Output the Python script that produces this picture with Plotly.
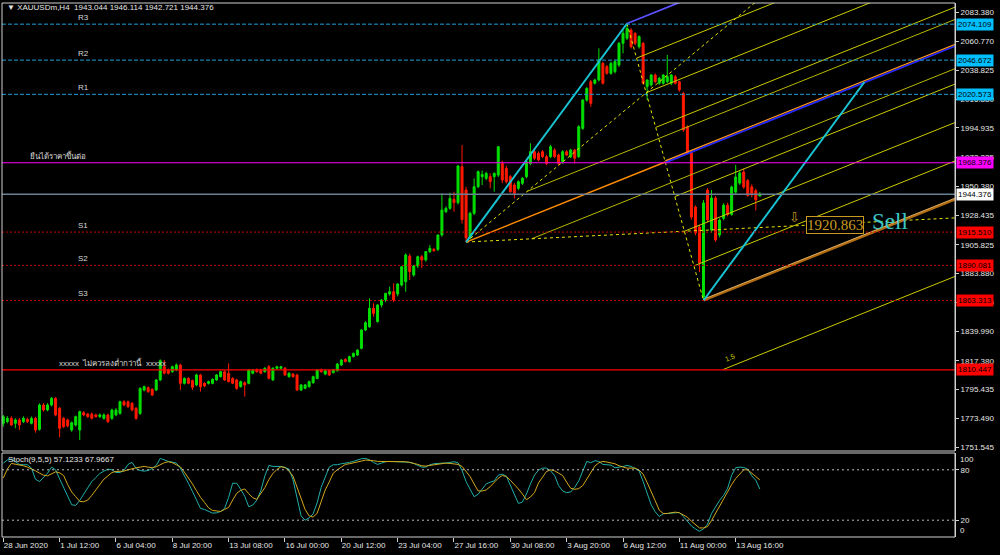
import plotly.graph_objects as go

# ------------------------------------------------------------------ data
bar_open = [
    1769.6, 1770.9, 1773.4, 1769.6, 1772.2, 1770.9, 1772.7, 1769.6, 1773.4, 1765.0,
    1783.6, 1779.8, 1783.6, 1788.7, 1781.1, 1773.4, 1772.2, 1764.5, 1768.3, 1764.5,
    1777.7, 1776.7, 1776.7, 1776.0, 1774.7, 1773.4, 1776.0, 1773.4, 1776.0, 1777.2,
    1786.1, 1786.1, 1784.9, 1781.1, 1777.2, 1795.0, 1796.8, 1795.5, 1795.0, 1802.7,
    1812.8, 1810.3, 1809.0, 1810.3, 1814.1, 1800.1, 1803.9, 1802.2, 1798.9, 1806.5,
    1800.1, 1800.1, 1800.1, 1802.7, 1805.2, 1809.0, 1807.8, 1803.9, 1802.7, 1797.6,
    1800.6, 1800.1, 1807.8, 1810.3, 1810.3, 1809.0, 1812.8, 1802.7, 1811.6, 1811.6,
    1811.6, 1805.2, 1807.2, 1806.5, 1795.0, 1796.3, 1797.6, 1800.6, 1803.9, 1810.3,
    1807.2, 1809.8, 1808.3, 1809.8, 1814.1, 1818.4, 1816.7, 1820.5, 1821.7,
    1826.8, 1840.8, 1843.3, 1857.3, 1847.2, 1859.9, 1863.7, 1868.3, 1870.0, 1868.3,
    1875.1, 1877.7, 1897.2, 1882.8, 1889.6, 1896.7, 1894.2, 1900.6, 1902.3, 1902.3,
    1913.3, 1931.1, 1933.6, 1940.5, 1937.9, 1965.4, 1947.6,
    1911.0, 1929.8, 1950.1, 1957.8, 1956.5, 1957.8, 1957.8, 1959.0, 1967.9, 1964.1,
    1957.8, 1951.4, 1948.9, 1952.7, 1957.8, 1967.9, 1976.8, 1975.6, 1976.8, 1973.0,
    1973.0, 1978.1, 1974.3, 1969.2, 1976.8, 1973.0, 1978.1, 1973.0, 1994.6, 2016.2,
    2030.2, 2029.0, 2031.5, 2044.2, 2041.7, 2036.6, 2037.9, 2042.9, 2059.5, 2063.3,
    2069.6, 2067.1, 2056.9, 2059.5, 2026.4, 2027.7, 2035.3, 2029.0, 2029.0, 2030.2,
    2029.0, 2034.0, 2030.2, 2021.3, 1995.9, 1976.6, 1934.6, 1919.4, 1866.0, 1947.6,
    1917.0, 1941.5, 1913.3, 1926.0, 1936.0, 1929.0, 1946.0, 1952.9, 1961.3, 1954.8,
    1950.0, 1947.1, 1943.044,
]
bar_high = [
    1776.0, 1775.2, 1775.0, 1773.5, 1773.6, 1775.0, 1774.0, 1774.8, 1774.5, 1784.8,
    1785.0, 1785.0, 1789.6, 1789.6, 1782.0, 1774.5, 1773.2, 1771.0, 1775.5, 1779.3,
    1779.0, 1777.6, 1777.8, 1777.0, 1777.2, 1777.2, 1777.0, 1780.8, 1781.2, 1786.9,
    1787.2, 1787.0, 1785.8, 1782.0, 1797.0, 1798.4, 1797.8, 1796.4, 1803.4, 1818.4,
    1817.9, 1811.4, 1813.6, 1815.4, 1815.0, 1804.6, 1804.8, 1803.0, 1807.4, 1807.4,
    1801.0, 1802.2, 1803.9, 1807.2, 1809.8, 1810.0, 1815.4, 1804.8, 1803.6, 1802.2,
    1801.6, 1811.0, 1811.0, 1811.5, 1811.2, 1812.4, 1814.1, 1812.4, 1813.6, 1813.4,
    1812.6, 1808.6, 1808.0, 1807.4, 1799.6, 1799.6, 1802.2, 1806.0, 1810.8, 1811.4,
    1810.6, 1810.8, 1811.0, 1815.6, 1818.6, 1819.2, 1821.2, 1823.6, 1826.0,
    1841.5, 1847.5, 1865.0, 1861.2, 1860.5, 1864.5, 1869.0, 1873.9, 1876.4, 1876.4,
    1889.6, 1899.3, 1899.0, 1890.5, 1897.5, 1898.0, 1901.0, 1905.6, 1903.5, 1913.5,
    1945.0, 1935.0, 1945.5, 1946.3, 1966.7, 1981.9, 1950.0,
    1931.0, 1956.5, 1962.5, 1962.5, 1961.5, 1960.3, 1961.0, 1981.1, 1970.0, 1966.0,
    1959.0, 1953.0, 1955.0, 1957.5, 1970.0, 1983.2, 1978.0, 1977.0, 1978.0, 1974.5,
    1982.0, 1979.5, 1975.5, 1978.0, 1978.0, 1979.0, 1979.0, 1997.0, 2017.0, 2026.0,
    2031.5, 2032.5, 2055.7, 2045.5, 2043.0, 2045.5, 2047.0, 2060.5, 2069.6, 2074.6,
    2071.0, 2068.0, 2065.5, 2060.5, 2032.0, 2036.0, 2036.5, 2034.0, 2036.0, 2050.6,
    2036.0, 2035.3, 2031.0, 2022.5, 1997.0, 1978.0, 1936.0, 1921.0, 1940.0, 1949.0,
    1947.6, 1943.0, 1926.0, 1937.5, 1938.0, 1951.0, 1966.7, 1962.0, 1964.0, 1956.0,
    1952.0, 1948.5, 1946.114,
]
bar_low = [
    1767.1, 1769.6, 1767.5, 1765.8, 1764.5, 1769.8, 1769.8, 1768.8, 1762.5, 1764.0,
    1778.6, 1778.8, 1782.5, 1775.0, 1758.9, 1766.0, 1766.5, 1763.2, 1767.2, 1756.9,
    1775.0, 1773.8, 1772.6, 1773.8, 1773.6, 1772.4, 1769.8, 1772.2, 1775.0, 1776.2,
    1782.6, 1781.4, 1778.8, 1772.2, 1776.0, 1794.0, 1792.8, 1790.4, 1794.2, 1801.8,
    1807.0, 1806.8, 1808.2, 1809.4, 1795.0, 1799.2, 1799.4, 1795.0, 1798.0, 1793.8,
    1797.2, 1799.2, 1799.4, 1802.0, 1804.6, 1802.0, 1800.8, 1799.5, 1795.0, 1796.9,
    1790.0, 1799.4, 1807.0, 1808.2, 1807.0, 1808.2, 1803.2, 1802.0, 1810.8, 1810.6,
    1805.8, 1804.4, 1804.4, 1794.2, 1794.2, 1795.6, 1796.8, 1799.8, 1803.2, 1808.2,
    1806.4, 1805.8, 1807.6, 1809.0, 1813.4, 1816.0, 1816.0, 1819.8, 1821.0,
    1826.0, 1840.0, 1842.5, 1851.0, 1846.4, 1858.0, 1862.0, 1867.0, 1862.0, 1866.5,
    1874.0, 1870.0, 1879.0, 1881.5, 1888.0, 1887.8, 1893.0, 1899.5, 1900.5, 1901.0,
    1912.0, 1930.0, 1932.5, 1931.0, 1936.5, 1922.0, 1907.9,
    1910.0, 1928.5, 1949.0, 1951.4, 1955.0, 1948.9, 1946.3, 1957.5, 1952.7, 1952.5,
    1945.5, 1941.2, 1947.5, 1951.5, 1956.5, 1966.5, 1970.5, 1969.5, 1972.0, 1966.5,
    1972.0, 1972.0, 1966.5, 1967.5, 1973.5, 1972.0, 1967.9, 1972.0, 1993.5, 2015.0,
    2011.0, 2028.0, 2030.5, 2028.0, 2035.5, 2035.5, 2036.5, 2041.5, 2051.9, 2062.0,
    2055.5, 2058.0, 2055.5, 2028.0, 2016.2, 2026.5, 2029.0, 2028.0, 2028.0, 2029.0,
    2027.5, 2028.0, 2022.5, 1992.0, 1975.0, 1925.0, 1913.0, 1885.0, 1863.3, 1923.0,
    1915.0, 1908.0, 1911.5, 1924.5, 1927.5, 1928.0, 1944.5, 1951.5, 1948.5, 1942.5,
    1942.0, 1932.0, 1942.721,
]
bar_close = [
    1774.7, 1773.4, 1768.3, 1772.2, 1768.3, 1773.4, 1770.9, 1773.4, 1764.5, 1783.6,
    1779.8, 1783.6, 1788.7, 1776.0, 1765.8, 1767.1, 1767.6, 1770.1, 1774.7, 1778.5,
    1776.0, 1774.7, 1773.4, 1774.7, 1776.0, 1776.0, 1770.9, 1779.8, 1779.8, 1786.1,
    1783.6, 1782.3, 1779.8, 1773.4, 1796.3, 1797.6, 1793.8, 1791.2, 1802.7, 1817.4,
    1807.8, 1807.8, 1812.8, 1814.1, 1800.1, 1803.9, 1800.1, 1797.1, 1806.5, 1797.6,
    1798.1, 1801.4, 1803.2, 1806.5, 1809.0, 1802.7, 1801.4, 1800.1, 1796.3, 1801.4,
    1798.9, 1810.3, 1810.3, 1809.0, 1807.8, 1811.6, 1803.9, 1811.6, 1812.8, 1812.8,
    1806.5, 1807.8, 1805.2, 1795.0, 1798.9, 1798.9, 1801.4, 1805.2, 1810.3, 1809.0,
    1809.8, 1806.5, 1810.3, 1814.9, 1817.9, 1816.7, 1820.5, 1823.0, 1825.5,
    1840.8, 1846.4, 1857.3, 1853.5, 1859.9, 1863.7, 1868.8, 1870.0, 1863.7, 1875.9,
    1889.1, 1898.0, 1885.3, 1889.6, 1896.7, 1894.2, 1900.6, 1903.1, 1901.3, 1913.3,
    1932.3, 1933.6, 1941.2, 1937.9, 1965.9, 1925.0, 1911.0,
    1929.8, 1950.1, 1961.6, 1959.5, 1960.3, 1954.0, 1960.3, 1980.6, 1955.2, 1953.9,
    1946.3, 1945.0, 1953.9, 1956.5, 1969.2, 1976.8, 1971.8, 1970.5, 1973.0, 1967.9,
    1980.6, 1973.0, 1967.9, 1976.8, 1974.3, 1978.1, 1971.8, 1995.9, 2016.2, 2025.1,
    2013.7, 2031.5, 2046.8, 2029.0, 2036.6, 2044.2, 2045.5, 2059.5, 2067.1, 2070.9,
    2056.9, 2059.5, 2064.6, 2029.0, 2031.5, 2035.3, 2030.2, 2032.8, 2035.3, 2034.0,
    2035.3, 2029.0, 2023.9, 1993.4, 1976.6, 1927.0, 1914.8, 1891.9, 1937.7, 1924.7,
    1941.5, 1909.5, 1924.7, 1936.0, 1929.0, 1949.9, 1957.5, 1960.6, 1949.9, 1943.3,
    1944.0, 1940.0, 1944.376,
]

stoch_main = [
    88, 91.6, 92.8, 89.6, 86.4, 86, 86, 82, 68.8, 66,
    70.4, 76, 83.2, 80, 69.2, 58.8, 48.4, 38.4, 37.6, 43.6,
    51.2, 59.2, 66, 70.8, 75.6, 78.4, 80.8, 80, 76.8, 76.8,
    79.2, 86.4, 88.8, 81.6, 79.2, 78.4, 79.2, 81.6, 85.2, 93.6,
    91.6, 90, 89.2, 88, 82, 73.6, 64, 54.4, 44.4, 34,
    32.8, 30.8, 28.4, 28.8, 30.4, 34, 47.2, 64, 64, 56.8,
    48.4, 36, 38, 44, 55.2, 72.8, 85.2, 84, 84, 84,
    82.8, 80.8, 68, 45.2, 25.2, 20, 22.8, 27.6, 40.8, 59.2,
    71.2, 83.2, 86, 86, 87.2, 87.6, 88.8, 90, 91.6, 93.2,
    93.6, 92, 88.8, 86.4, 88, 89.6, 90, 90, 90, 89.6,
    89.2, 88.8, 87.6, 85.2, 83.2, 83.2, 86, 87.2, 88, 88,
    88, 88.8, 89.6, 88.4, 79.2, 66, 56, 48, 50.8, 56.8,
    63.2, 65.2, 66.8, 73.6, 74.8, 72.4, 61.2, 49.6, 40, 41.6,
    51.2, 63.2, 73.6, 79.6, 82, 82, 78.8, 73.2, 61.2, 54.8,
    52.8, 53.6, 59.2, 66.8, 78.4, 90, 88.4, 90.8, 90, 86.4,
    86, 85.6, 82.4, 82.8, 84, 85.2, 84, 81.6, 78.8, 66,
    50.8, 38.4, 30, 24.4, 27.6, 28, 28, 28.8, 29.2, 24.4,
    18.4, 13.2, 9.6, 6.8, 9.6, 15.2, 28, 36.4, 43.6, 49.6,
    58, 73.6, 82.4, 83.2, 82.8, 80.8, 72.8, 67.6, 57.1233,
]
stoch_signal = [
    70, 80.8, 87.6, 86.8, 86, 84.8, 83.2, 81.2, 78.8, 76,
    73.6, 72.8, 75.2, 77.6, 76.4, 73.2, 62.4, 53.6, 48, 42.4,
    42, 44, 49.6, 55.6, 62, 68.8, 72.8, 76.8, 78, 78,
    78.4, 80, 81.6, 82.4, 83.2, 84, 83.2, 82.4, 83.6, 86.4,
    88.4, 89.6, 88.4, 86, 83.6, 77.2, 70.8, 63.2, 55.2, 47.2,
    41.2, 34.8, 31.6, 30.8, 30.4, 32.8, 35.2, 44, 52, 55.6,
    57.2, 51.6, 46.8, 44.8, 51.6, 58.8, 68.4, 75.6, 80.4, 83.6,
    82.8, 78.4, 72.4, 58.8, 44.8, 32.8, 25.2, 23.6, 28.4, 43.6,
    56, 65.6, 76, 80, 83.2, 86.4, 87.2, 88, 89.2, 90.4,
    91.6, 91.6, 90.8, 90, 90, 90, 90, 90, 90, 90,
    89.6, 88.8, 88, 86.4, 84.8, 84.4, 85.2, 86, 86.8, 87.2,
    88, 87.6, 86.8, 86.4, 84, 77.6, 72, 63.2, 54.8, 54.8,
    56, 60, 64.8, 70, 73.2, 72, 67.6, 62.8, 57.2, 51.2,
    44.4, 47.6, 52.8, 64.4, 71.2, 78, 80, 78.8, 76, 73.2,
    65.2, 58, 56.8, 57.6, 61.2, 68.8, 77.2, 84.4, 88.4, 90,
    89.2, 88.4, 87.2, 84.8, 83.2, 82, 82, 82, 79.6, 74.8,
    64.8, 54.8, 43.2, 32, 28, 28, 28.8, 29.6, 28.8, 26.4,
    23.6, 18.8, 14.4, 10.8, 10.8, 12.4, 19.6, 28, 37.6, 46.4,
    54.4, 62.4, 69.6, 75.2, 80, 80, 76.4, 72, 67.9667,
]

time_tick_bars = [0, 14, 28, 42, 56, 70, 84, 98, 112, 126, 140, 154, 168, 182]
time_tick_labels = ["28 Jun 2020", "1 Jul 12:00", "6 Jul 04:00", "8 Jul 20:00",
                    "13 Jul 08:00", "16 Jul 00:00", "20 Jul 12:00", "23 Jul 04:00",
                    "27 Jul 16:00", "30 Jul 08:00", "3 Aug 20:00", "6 Aug 12:00",
                    "11 Aug 00:00", "13 Aug 16:00"]

price_tick_values = [2083.380, 2060.770, 2038.825, 2016.880, 1994.935, 1972.325,
                     1950.380, 1928.435, 1905.825, 1883.880, 1861.935, 1839.990,
                     1817.380, 1795.435, 1773.490, 1751.545]

level_names = ["R3", "R2", "R1", "ยืนได้ราคาขึ้นต่อ", "S1", "S2", "S3",
               "xxxxx  ไม่ควรลงต่ำกว่านี้  xxxxx"]
level_prices = [2074.109, 2046.672, 2020.573, 1968.376, 1915.510, 1890.081,
                1863.313, 1810.447]
current_price = 1944.376

pitchfork_bars = [115, 155, 174]
pitchfork_prices = [1907.9, 2074.6, 1863.3]
pitchfork_levels = [-0.75, -0.5, -0.25, 0.25, 0.5, 0.75, 1.5]
extra_levels = [-0.17, 0.15]

signal_price = 1920.863
title_text = "▼ XAUUSDm,H4  1943.044 1946.114 1942.721 1944.376"
stoch_text = "Stoch(9,5,5) 57.1233 67.9667"

# ------------------------------------------------------------------ geometry
W, H = 1000, 555
XL, XR = 2, 955
MAIN_T, MAIN_B = 3, 451
ST_T, ST_B = 453, 537


def pxx(x):
    return x / W


def pyy(y):
    return 1 - y / H


bars = list(range(len(bar_close)))
x_range = [-0.32, 236.5]
y_range = [1748.5, 2090.25]
FONT = "Liberation Sans"
TXT = "#e6e6e6"

fig = go.Figure()

fig.add_trace(go.Candlestick(
    x=bars, open=bar_open, high=bar_high, low=bar_low, close=bar_close,
    increasing=dict(line=dict(color="#00e000", width=1), fillcolor="#00e000"),
    decreasing=dict(line=dict(color="#ff1a00", width=1), fillcolor="#ff1a00"),
    whiskerwidth=0, hoverinfo="skip", showlegend=False, xaxis="x", yaxis="y"))

# ---------------- pitchfork
Ax, Bx, Cx = pitchfork_bars
Ay, By, Cy = pitchfork_prices
Mx, My = (Bx + Cx) / 2, (By + Cy) / 2
slope = (My - Ay) / (Mx - Ax)
X_END = 245


def lvl_pt(k):
    return Mx + k * (Cx - Mx), My + k * (Cy - My)


def seg_to_end(x0, y0, dy=0.0):
    return [x0, X_END], [y0 + dy, y0 + slope * (X_END - x0) + dy]


def add_line(xs, ys, color, width=1, dash=None):
    fig.add_trace(go.Scatter(x=xs, y=ys, mode="lines", hoverinfo="skip",
                             showlegend=False,
                             line=dict(color=color, width=width, dash=dash)))


for k in pitchfork_levels:
    x0, y0 = lvl_pt(k)
    xs, ys = seg_to_end(x0, y0)
    add_line(xs, ys, "#cccc00", 1)

for k in extra_levels:
    sx, sy = lvl_pt(0.5 if k > 0 else -0.5)
    r = (sy - Ay) / (sx - Ax)
    px0, py0 = lvl_pt(k)
    xi = (py0 - slope * px0 - Ay + r * Ax) / (r - slope)
    yi = Ay + r * (xi - Ax)
    xs, ys = seg_to_end(xi, yi)
    add_line(xs, ys, "#b8b800", 1)

for k in (-0.5, 0.5):
    sx, sy = lvl_pt(k)
    r = (sy - Ay) / (sx - Ax)
    add_line([Ax, X_END], [Ay, Ay + r * (X_END - Ax)], "#e6e600", 1, "3px,3px")
add_line([Bx, Cx], [By, Cy], "#e6e600", 1, "3px,3px")

xs, ys = seg_to_end(Cx, Cy)
add_line(xs, ys, "#b06a10", 2.4)
xs, ys = seg_to_end(Cx, Cy, 1.0)
add_line(xs, ys, "#e0b060", 1)
xs, ys = seg_to_end(Bx, By)
add_line(xs, ys, "#5a50ff", 1.8)
add_line([Ax, Mx], [Ay, My], "#ff8c00", 1.4)
xs, ys = seg_to_end(Mx, My, -0.4)
add_line(xs, ys, "#2828ff", 1.8)
xs, ys = seg_to_end(Mx, My, 0.9)
add_line(xs, ys, "#ff9a20", 1.2)

add_line([Ax, Bx], [Ay, By], "#18c4d4", 2)
add_line([Cx, Cx + (Bx - Ax)], [Cy, Cy + (By - Ay)], "#18c4d4", 2)

# ---------------- stochastic
fig.add_trace(go.Scatter(x=bars, y=stoch_main, mode="lines", hoverinfo="skip",
                         showlegend=False, line=dict(color="#1fb0a8", width=1),
                         xaxis="x2", yaxis="y2"))
fig.add_trace(go.Scatter(x=bars, y=stoch_signal, mode="lines", hoverinfo="skip",
                         showlegend=False, line=dict(color="#d4a81a", width=1),
                         xaxis="x2", yaxis="y2"))

shapes = []
annotations = []

level_styles = [
    ("#1c9fd6", "4px,2px", 1, "#00bfff"),
    ("#1c9fd6", "4px,2px", 1, "#00bfff"),
    ("#1c9fd6", "4px,2px", 1, "#00bfff"),
    ("#ff00ff", None, 1, "#ff00ff"),
    ("#c80000", "2px,2px", 1, "#ff0000"),
    ("#c80000", "2px,2px", 1, "#ff0000"),
    ("#c80000", "2px,2px", 1, "#ff0000"),
    ("#ff0000", None, 1.2, "#ff0000"),
]
label_x = [18, 18, 18, 6.2, 18, 18, 18, 13.3]
for name, price, (col, dash, wid, bg), lx in zip(level_names, level_prices,
                                                   level_styles, label_x):
    shapes.append(dict(type="line", xref="x domain", yref="y", x0=0, x1=1,
                       y0=price, y1=price, layer="above",
                       line=dict(color=col, width=wid, dash=dash)))
    annotations.append(dict(x=lx, y=price, xref="x", yref="y", text=name,
                            showarrow=False, xanchor="left", yanchor="bottom",
                            font=dict(family=FONT, size=8, color="#d8d8d8")))
    annotations.append(dict(x=pxx(XR + 1), y=price, xref="paper", yref="y",
                            text=f"{price:.3f}", showarrow=False, xanchor="left",
                            yanchor="middle", bgcolor=bg, borderpad=1,
                            font=dict(family=FONT, size=8, color="#000000")))

shapes.append(dict(type="line", xref="x domain", yref="y", x0=0, x1=1,
                   y0=current_price, y1=current_price, layer="above",
                   line=dict(color="#6c8094", width=1.5)))
annotations.append(dict(x=pxx(XR + 1), y=current_price, xref="paper", yref="y",
                        text=f"{current_price:.3f}", showarrow=False,
                        xanchor="left", yanchor="middle", bgcolor="#ffffff",
                        borderpad=1,
                        font=dict(family=FONT, size=8, color="#000000")))

for lv in (80, 20):
    shapes.append(dict(type="line", xref="x2 domain", yref="y2", x0=0, x1=1,
                       y0=lv, y1=lv, line=dict(color="#bdbdbd", width=1, dash="2px,3px")))

for t, b in ((MAIN_T, MAIN_B), (ST_T, ST_B)):
    shapes.append(dict(type="rect", xref="paper", yref="paper",
                       x0=pxx(XL), x1=pxx(XR), y0=pyy(b), y1=pyy(t),
                       line=dict(color="#d0d0d0", width=1), layer="above"))

annotations.append(dict(x=pxx(5), y=pyy(8), xref="paper", yref="paper",
                        text=title_text, showarrow=False, xanchor="left",
                        yanchor="middle", font=dict(family=FONT, size=8, color=TXT)))
annotations.append(dict(x=pxx(6), y=pyy(459), xref="paper", yref="paper",
                        text=stoch_text, showarrow=False, xanchor="left",
                        yanchor="middle", font=dict(family=FONT, size=8, color=TXT)))
annotations.append(dict(x=pxx(958), y=100, xref="paper", yref="y2", text="100",
                        showarrow=False, xanchor="left", yanchor="top",
                        font=dict(family=FONT, size=8, color=TXT)))
annotations.append(dict(x=pxx(958), y=0, xref="paper", yref="y2", text="0",
                        showarrow=False, xanchor="left", yanchor="bottom",
                        font=dict(family=FONT, size=8, color=TXT)))

annotations.append(dict(x=206.8, y=signal_price, xref="x", yref="y",
                        text=f"{signal_price:.3f}", showarrow=False,
                        xanchor="center", yanchor="middle", bgcolor="#000000",
                        bordercolor="#c89a22", borderwidth=1, borderpad=0,
                        font=dict(family="Liberation Serif", size=15, color="#c89a22")))
annotations.append(dict(x=196.6, y=signal_price + 6, xref="x", yref="y", text="⇩",
                        showarrow=False, xanchor="center", yanchor="middle",
                        font=dict(family="DejaVu Sans", size=13, color="#c89a22")))
annotations.append(dict(x=220.4, y=signal_price + 2.5, xref="x", yref="y", text="Sell",
                        showarrow=False, xanchor="center", yanchor="middle",
                        font=dict(family="Liberation Serif", size=23, color="#3cc6c6")))
p15x, p15y = lvl_pt(1.5)
annotations.append(dict(x=p15x + 1.8, y=p15y + slope * 1.8 + 7, xref="x", yref="y",
                        text="1.5", showarrow=False, textangle=-22,
                        font=dict(family=FONT, size=7, color="#cccc00")))

fig.update_layout(
    width=W, height=H, margin=dict(l=0, r=0, t=0, b=0, autoexpand=False),
    paper_bgcolor="#000000", plot_bgcolor="#000000", showlegend=False,
    xaxis=dict(domain=[pxx(XL), pxx(XR)], range=x_range, anchor="y",
               showticklabels=False, ticks="", showgrid=False, zeroline=False,
               showline=False, rangeslider=dict(visible=False), fixedrange=True,
               automargin=False),
    yaxis=dict(domain=[pyy(MAIN_B), pyy(MAIN_T)], range=y_range, anchor="x",
               side="right", tickvals=price_tick_values,
               ticktext=[f"{v:.3f}" for v in price_tick_values],
               ticks="outside", ticklen=3, tickcolor="#d0d0d0",
               tickfont=dict(family=FONT, size=8, color=TXT),
               showgrid=False, zeroline=False, showline=True,
               linecolor="#d0d0d0", linewidth=1, automargin=False),
    xaxis2=dict(domain=[pxx(XL), pxx(XR)], range=x_range, anchor="y2",
                tickvals=time_tick_bars, ticktext=time_tick_labels,
                ticks="outside", ticklen=4, tickcolor="#d0d0d0", tickangle=0,
                ticklabelposition="outside right",
                tickfont=dict(family=FONT, size=8, color=TXT),
                showgrid=False, zeroline=False, showline=False, automargin=False),
    yaxis2=dict(domain=[pyy(ST_B), pyy(ST_T)], range=[0, 100], anchor="x2",
                side="right", tickvals=[80, 20], ticktext=["80", "20"],
                ticks="outside", ticklen=3, tickcolor="#d0d0d0",
                tickfont=dict(family=FONT, size=8, color=TXT),
                showgrid=False, zeroline=False, showline=True,
                linecolor="#d0d0d0", linewidth=1, automargin=False),
    shapes=shapes, annotations=annotations,
)

fig.write_html("out.html",
               config={"displayModeBar": False},
               post_script="document.body.style.margin='0';"
                           "document.body.style.background='#000';")
